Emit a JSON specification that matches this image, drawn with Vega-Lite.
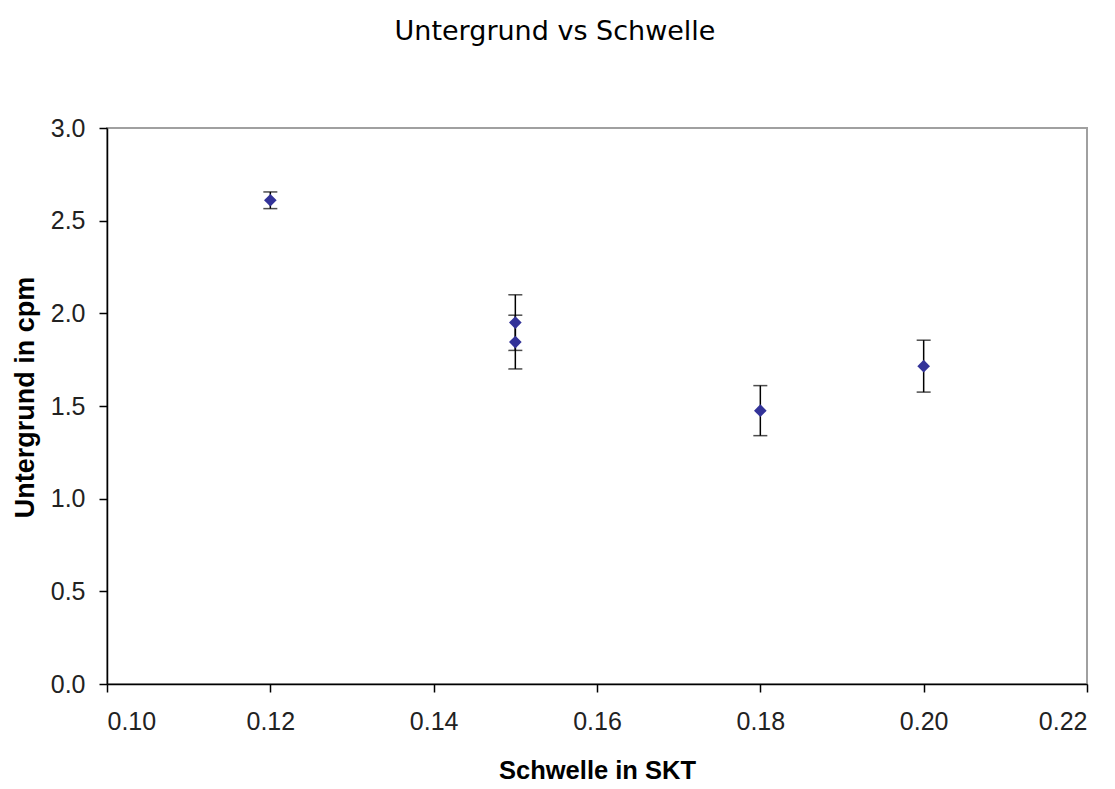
{
  "$schema": "https://vega.github.io/schema/vega-lite/v6.json",
  "autosize": {"type": "none"},
  "padding": {"left": 107, "top": 128, "right": 28, "bottom": 105},
  "width": 980,
  "height": 556,
  "background": "white",
  "title": {
    "text": "Untergrund vs Schwelle",
    "font": "DejaVu Sans",
    "fontSize": 27,
    "fontWeight": "normal",
    "color": "#000000",
    "anchor": "middle",
    "frame": "group",
    "dx": -42,
    "baseline": "alphabetic",
    "offset": 49
  },
  "config": {
    "view": {"stroke": "#a0a0a0", "strokeWidth": 2},
    "axis": {
      "grid": false,
      "domainColor": "#000000",
      "domainWidth": 1.5,
      "tickColor": "#000000",
      "tickWidth": 1.5,
      "tickSize": 8,
      "labelFont": "Liberation Sans",
      "labelFontSize": 25,
      "labelColor": "#222222",
      "titleFont": "Liberation Sans",
      "titleFontWeight": "bold",
      "titleColor": "#000000"
    }
  },
  "data": {
    "values": [
      {"schwelle": 0.12, "untergrund": 2.61, "lo": 2.565, "hi": 2.655},
      {"schwelle": 0.15, "untergrund": 1.95, "lo": 1.8, "hi": 2.1},
      {"schwelle": 0.15, "untergrund": 1.845, "lo": 1.7, "hi": 1.99},
      {"schwelle": 0.18, "untergrund": 1.475, "lo": 1.34, "hi": 1.61},
      {"schwelle": 0.2, "untergrund": 1.715, "lo": 1.575, "hi": 1.855}
    ]
  },
  "encoding": {
    "x": {
      "field": "schwelle",
      "type": "quantitative",
      "scale": {"domain": [0.1, 0.22], "nice": false, "zero": false},
      "axis": {
        "title": "Schwelle in SKT",
        "titleFontSize": 25.5,
        "values": [0.1, 0.12, 0.14, 0.16, 0.18, 0.2, 0.22],
        "format": ".2f",
        "labelPadding": 17,
        "titlePadding": 24
      }
    }
  },
  "layer": [
    {
      "mark": {"type": "rule", "color": "#000000", "strokeWidth": 1.5},
      "encoding": {
        "y": {"field": "lo", "type": "quantitative"},
        "y2": {"field": "hi"}
      }
    },
    {
      "mark": {"type": "tick", "orient": "horizontal", "color": "#000000", "size": 14, "thickness": 1.5},
      "encoding": {"y": {"field": "lo", "type": "quantitative"}}
    },
    {
      "mark": {"type": "tick", "orient": "horizontal", "color": "#000000", "size": 14, "thickness": 1.5},
      "encoding": {"y": {"field": "hi", "type": "quantitative"}}
    },
    {
      "mark": {"type": "point", "shape": "diamond", "filled": true, "color": "#333399", "size": 160, "opacity": 1},
      "encoding": {
        "y": {
          "field": "untergrund",
          "type": "quantitative",
          "scale": {"domain": [0, 3], "nice": false},
          "axis": {
            "title": "Untergrund in cpm",
            "titleFontSize": 27,
            "titleY": 269,
            "values": [0, 0.5, 1, 1.5, 2, 2.5, 3],
            "format": ".1f",
            "labelPadding": 14,
            "titlePadding": 11
          }
        }
      }
    }
  ]
}
